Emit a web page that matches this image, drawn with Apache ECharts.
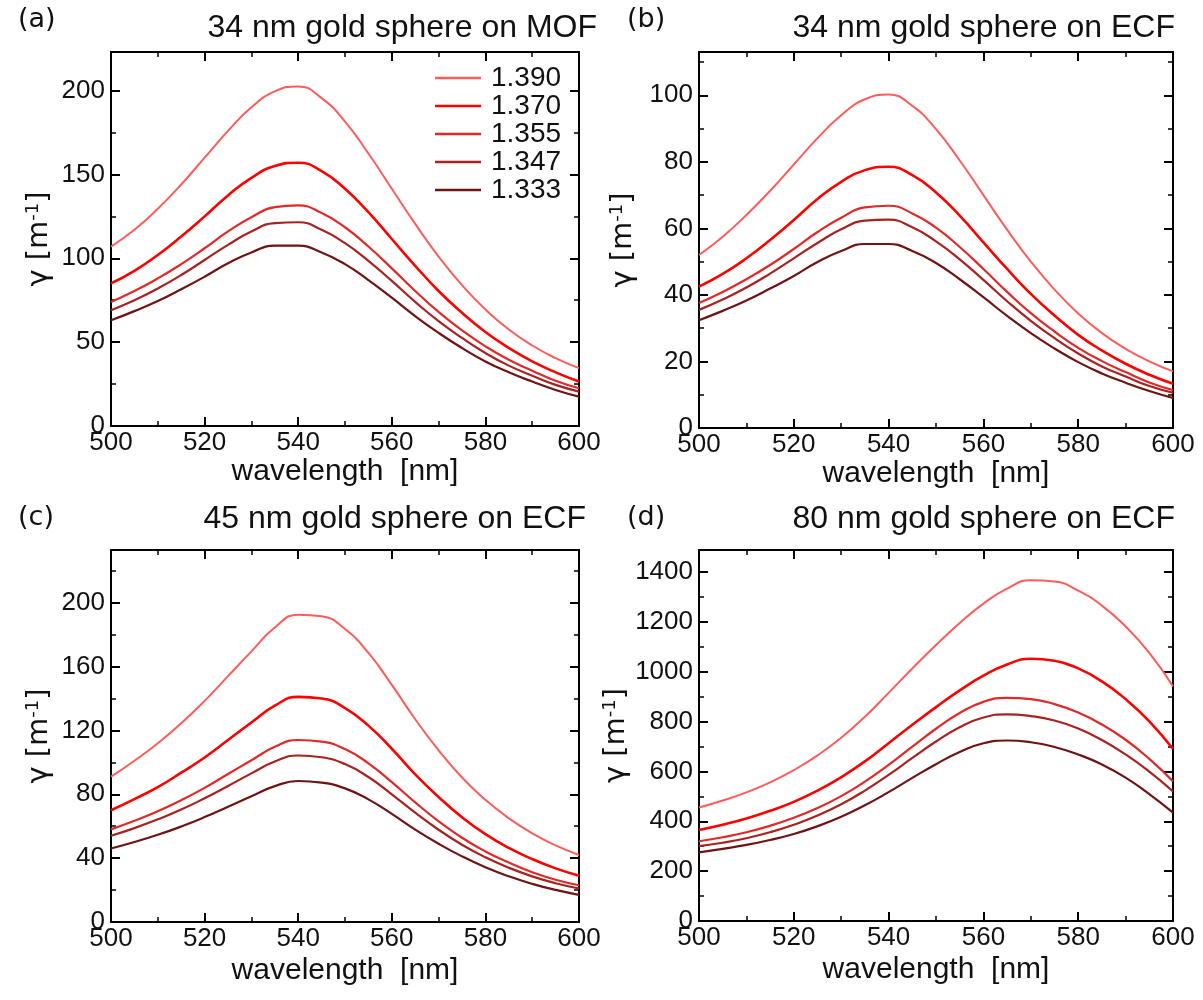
<!DOCTYPE html>
<html>
<head>
<meta charset="utf-8">
<script src="https://cdn.jsdelivr.net/npm/echarts@6/dist/echarts.min.js"></script>
<style>html,body{margin:0;padding:0;background:#fff;}#c{width:1203px;height:1000px;}</style>
</head>
<body>
<div id="c"></div>
<script>
// ---- data ----
const wavelengths = [500,505,510,515,520,525,530,535,540,545,550,555,560,565,570,575,580,585,590,595,600];
const refractiveIndices = ['1.390','1.370','1.355','1.347','1.333'];
const lineColors = ['#ff5c5c','#ff0000','#e02a2a','#a82222','#6e1414'];
const lineWidths = [2, 2.6, 2.2, 2.2, 2.2];

const panelTitles = ['34 nm gold sphere on MOF','34 nm gold sphere on ECF','45 nm gold sphere on ECF','80 nm gold sphere on ECF'];
const panelLetters = ['(a)','(b)','(c)','(d)'];
const yIntervals = [50, 20, 40, 200];
const yMaxima = [223, 113, 233, 1488];

// panel (a) 34 nm MOF
const a1390 = [107,117,129.5,144,160,176,190,199.5,202.5,195.5,181.5,162.5,141.5,120.5,101,84,69.5,57.5,48,40.5,34.5];
const a1370 = [85,92.5,102,113,125,137.5,148,155,157,152,141.5,127.5,111.5,95.5,80.5,67.5,56,46.5,38.5,32,26.5];
const a1355 = [74,80.5,88,96.5,106,116,124.5,130.5,131.5,127,118.5,107,94,80.5,68,57,47.5,39.5,33,27,22.5];
const a1347 = [69,75,82,90,99,108,116,121,121.5,117,109,98.5,86.5,74,62.5,52.5,43.5,36,30,24.5,20.5];
const a1333 = [63,68.5,74.5,81.5,89,97,103.5,107.5,107.5,103.5,96.5,87,76.5,65.5,55.5,46.5,38.5,32,26.5,21.5,17.5];
// panel (b) 34 nm ECF
const b1390 = [52,57.5,64,71.3,79.2,87.1,94,98.8,100.2,96.8,89.8,80.4,70,59.6,50,41.6,34.4,28.5,23.8,20,17];
const b1370 = [42.5,46.3,51,56.5,62.5,68.8,74,77.5,78.5,76,70.8,63.8,55.8,47.8,40.3,33.8,28,23.3,19.3,16,13.3];
const b1355 = [37.6,40.9,44.7,49,53.8,58.9,63.2,66.3,66.8,64.5,60.2,54.4,47.8,40.9,34.5,29,24.1,20.1,16.8,13.7,11.4];
const b1347 = [35.5,38.6,42.2,46.4,51,55.6,59.7,62.3,62.6,60.3,56.1,50.7,44.5,38.1,32.2,27,22.4,18.5,15.5,12.6,10.6];
const b1333 = [32.4,35.2,38.3,41.9,45.7,49.9,53.2,55.3,55.3,53.2,49.6,44.7,39.3,33.7,28.5,23.9,19.8,16.4,13.6,11.1,9];
// panel (c) 45 nm ECF
const c1390 = [91,101,112,124.5,138.5,154,169.5,184.5,192.5,191.5,183.5,168.5,148.5,127,107.5,90.5,76.5,65,55.5,48,42];
const c1370 = [70,77,84.5,93.5,103,114,125,135.5,141,140,134,123,108.5,92.5,78.3,65.6,55,46.4,39.4,33.6,29];
const c1355 = [58,63.4,69.4,76.3,84,92.7,101.3,109.7,114,113,108.3,99.4,87.6,74.9,63.1,52.8,44.2,37.2,31.2,26.5,23];
const c1347 = [54,58.8,64.3,70.4,77.5,85.2,93.1,100.5,104.3,103.2,98.9,90.8,80,68.5,57.8,48.4,40.5,34,28.6,24.3,21];
const c1333 = [46,50.1,54.6,59.8,65.7,72.2,78.8,85.1,88.3,87.3,83.7,76.8,67.7,57.9,49,41.1,34.3,28.6,23.9,20.1,17];
// panel (d) 80 nm ECF
const d1390 = [455,483,516,556,605,664,735,819,915,1013,1107,1195,1273,1333,1367,1362,1325,1265,1181,1075,941];
const d1370 = [365,386,411,442,478,523,577,640,713,787,858,925,984,1029,1052,1044,1013,961,890,801,690];
const d1355 = [320,336,356,382,414,453,501,559,626,699,771,834,879,895,890,870,836,788,727,650,560];
const d1347 = [300,314,332,356,386,423,468,523,586,654,720,777,816,829,822,804,772,726,668,599,520];
const d1333 = [275,289,305,325,349,380,418,464,517,574,629,678,713,724,717,698,668,628,575,509,435];

const panelSeries = [
  [a1390,a1370,a1355,a1347,a1333],
  [b1390,b1370,b1355,b1347,b1333],
  [c1390,c1370,c1355,c1347,c1333],
  [d1390,d1370,d1355,d1347,d1333]
];

// ---- layout ----
const grids = [
  {left:111, top:52, width:468, height:374},
  {left:699, top:52, width:474, height:376},
  {left:111, top:550, width:468, height:372},
  {left:699, top:550, width:474, height:371}
];
const titlePos = [
  {right:606, top:12}, {right:28, top:12}, {right:617, top:503}, {right:28, top:503}
];
const letterPos = [
  {left:18, top:6}, {left:627, top:6}, {left:18, top:504}, {left:627, top:504}
];
const yNameGap = [56, 60, 56, 60];
const xNameGap = [30, 30, 34, 34];

const sansFont = '"Liberation Sans", Arial, sans-serif';
const dejaFont = '"DejaVu Sans", sans-serif';

const xAxes = [], yAxes = [], series = [], titles = [];
grids.forEach((g, i) => {
  const common = {
    axisLine:{show:true, onZero:false, lineStyle:{color:'#000', width:2}},
    axisTick:{show:true, inside:true, length:9, lineStyle:{color:'#000', width:2}},
    minorTick:{show:true, splitNumber:2, length:5, lineStyle:{color:'#000', width:1.5}},
    splitLine:{show:false}
  };
  xAxes.push(Object.assign({}, common, {
    type:'value', gridIndex:i, min:500, max:600, interval:20, position:'bottom',
    name:'wavelength  [nm]', nameLocation:'middle', nameGap:xNameGap[i],
    nameTextStyle:{fontFamily:sansFont, fontSize:30, color:'#111', verticalAlign:'top'},
    axisLabel:{fontFamily:sansFont, fontSize:26, color:'#111', margin:4}
  }));
  xAxes.push(Object.assign({}, common, {
    type:'value', gridIndex:i, min:500, max:600, interval:20, position:'top',
    axisLabel:{show:false}
  }));
  const iv = yIntervals[i];
  yAxes.push(Object.assign({}, common, {
    type:'value', gridIndex:i, min:0, max:yMaxima[i], interval:iv, position:'left',
    name:'{n|γ [m}{s|-1}{n|]}', nameLocation:'middle', nameGap:yNameGap[i], nameRotate:90,
    nameTextStyle:{rich:{
      n:{fontFamily:dejaFont, fontSize:29, color:'#111'},
      s:{fontFamily:dejaFont, fontSize:18, color:'#111', verticalAlign:'top', padding:[0,0,13,0]}
    }},
    axisLabel:{fontFamily:sansFont, fontSize:26, color:'#111', margin:6,
      formatter: v => (Math.abs(v/iv - Math.round(v/iv)) < 1e-6 ? String(v) : '')}
  }));
  yAxes.push(Object.assign({}, common, {
    type:'value', gridIndex:i, min:0, max:yMaxima[i], interval:iv, position:'right',
    axisLabel:{show:false}
  }));
  panelSeries[i].forEach((arr, k) => {
    series.push({
      type:'line', name:refractiveIndices[k], xAxisIndex:2*i, yAxisIndex:2*i,
      data: wavelengths.map((w, j) => [w, arr[j]]),
      smooth:0.5, symbol:'none', showSymbol:false,
      lineStyle:{color:lineColors[k], width:lineWidths[k]},
      itemStyle:{color:lineColors[k]},
      z: 10 - k
    });
  });
  titles.push(Object.assign({text:panelTitles[i], padding:0, textStyle:{fontFamily:sansFont, fontSize:32, fontWeight:'normal', color:'#111'}}, titlePos[i]));
  titles.push(Object.assign({text:panelLetters[i], padding:0, textStyle:{fontFamily:dejaFont, fontSize:27, fontWeight:'normal', color:'#111'}}, letterPos[i]));
});

const chart = echarts.init(document.getElementById('c'), null, {renderer:'canvas'});
chart.setOption({
  backgroundColor:'#fff',
  animation:false,
  title: titles,
  grid: grids,
  xAxis: xAxes,
  yAxis: yAxes,
  legend: {
    data: refractiveIndices,
    icon:'rect',
    orient:'vertical', left:430, top:59, itemWidth:46, itemHeight:2.5, itemGap:0,
    textStyle:{fontFamily:sansFont, fontSize:28, color:'#111', lineHeight:28, padding:[0,0,0,5]}
  },
  series: series
});
</script>
</body>
</html>
